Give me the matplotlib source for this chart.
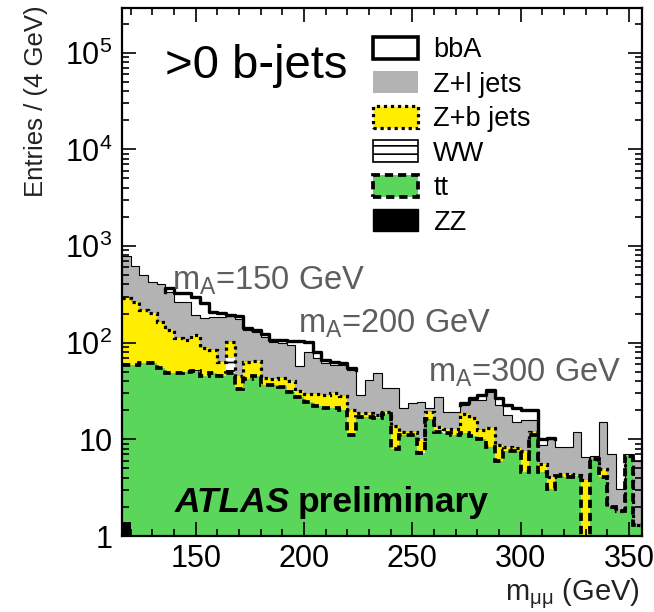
import numpy as np
import matplotlib
matplotlib.use("Agg")
import matplotlib.pyplot as plt
from matplotlib.patches import Patch
from matplotlib.ticker import FixedLocator, MultipleLocator, LogLocator, NullFormatter

plt.rcParams["font.family"] = ["Liberation Sans", "DejaVu Sans"]
plt.rcParams["mathtext.fontset"] = "custom"
plt.rcParams["mathtext.rm"] = "Liberation Sans"
plt.rcParams["mathtext.it"] = "Liberation Sans:italic"
plt.rcParams["hatch.linewidth"] = 1.2

# 4 GeV bins, 116 - 356 GeV
edges = np.arange(116, 360, 4)

zz = [1.4, 0.6, 0.5, 0.4, 0.4] + [0.3] * 6 + [0.2] * 9 + [0.1] * 33 + [0.0] + [0.1] * 6
tt = [57, 58, 61, 61, 54, 48, 48, 49, 51, 45, 48, 45, 48, 33, 42, 45,
      36, 36, 35, 31, 27, 24, 22, 21, 21, 20, 11, 17, 17, 16.5, 18,
      7.8, 11, 11, 7.2, 16, 11.9, 11.6, 11, 11.6, 10.6, 9.9, 8.3, 5.8, 7.4, 7.4,
      4.5, 11, 4.5, 3.0, 4.1, 4.0, 4.1, 0.0, 6.1, 4.0, 1.9, 1.7, 6.6, 1.2]
ww = [0.3] * 12 + [22] + [0.2] * 6 + [0.1] * 20 + [0.0] * 21
zb = [232, 205, 157, 141, 109, 87, 63, 57, 68, 42, 35, 17, 31, 12, 20, 20,
      7, 6, 8, 9, 4.5, 5.6, 7, 7.7, 9, 8, 9, 1.7, 1.7, 1.3, 0.8,
      5.6, 0.6, 0.6, 2.7, 2.8, 1.2, 0.9, 1.5, 6.4, 6.1, 2.6, 4.8, 2.9, 0.9, 0.55,
      2.9, 0.9, 0.9, 1.0, 0.2, 0.3, 0.1, 3.8, 0.0, 0.8, 0.0, 0.0, 0.0, 0.0]
zl = [500, 360, 284, 223, 242, 200, 152, 157, 74, 93, 101, 122, 87, 130, 73, 63,
      71, 59, 55, 54, 25.5, 50, 40, 33, 29, 31, 32, 10, 22, 31, 15,
      20.6, 9.5, 11.7, 14.5, 2.3, 14.4, 6.3, 6.3, 4.7, 8.8, 13, 18, 14, 9.6, 7,
      8.5, 4, 3.3, 5.9, 4, 4, 7.7, 2.8, 0.5, 10.3, 5, 1.3, 0.3, 4.6]
bba = [0, 0, 0, 0, 0, 33, 64, 64, 104, 77, 23, 18, 5, 13, 6, 7,
       8, 5, 8, 9, 46, 22, 10, 4, 4, 3, 3, 0, 0, 0, 0,
       0, 0, 0, 0, 0, 0, 0, 0, 1.1, 1.3, 3.3, 1.4, 4.1, 4.8, 6,
       4.2, 4.2, 1.2, 0.4, 0, 0, 0, 0, 0, 0, 0, 0, 0, 0]

GREEN = "#5ad65a"
YELLOW = "#ffee00"
GREY = "#b3b3b3"
LABEL_GREY = "#5e5e5e"

# stacked levels
c_zz = np.array(zz, dtype=float)
c_tt = c_zz + tt
c_ww = c_tt + ww
c_zb = c_ww + zb
c_zl = c_zb + zl
c_all = c_zl + bba

fig = plt.figure(figsize=(6.54, 6.12), dpi=100)
ax = fig.add_axes([122 / 654, 1 - 536 / 612, 520 / 654, 528 / 612])
ax.set_yscale("log")

floor = 1e-3
ax.stairs(c_all, edges, baseline=floor, fill=True, color="white")
ax.stairs(c_zl, edges, baseline=floor, fill=True, color=GREY)
ax.stairs(c_zb, edges, baseline=floor, fill=True, color=YELLOW)
ax.stairs(c_ww, edges, baseline=floor, fill=True, facecolor="white",
          edgecolor="black", hatch="--", lw=0)
ax.stairs(c_tt, edges, baseline=floor, fill=True, color=GREEN)
ax.stairs(c_zz, edges, baseline=floor, fill=True, color="black")

# outlines
ax.stairs(c_zl, edges, baseline=None, color="black", lw=0.8)
ax.stairs(c_zb, edges, baseline=None, color="black", lw=2.3, ls=(0, (1, 1.2)))
ax.stairs(c_tt, edges, baseline=None, color="black", lw=2.7, ls=(0, (2.2, 1.3)))

# thick signal outline where bbA contributes
has_sig = np.array(bba) > 0
i = 0
while i < len(has_sig):
    if has_sig[i]:
        j = i
        while j < len(has_sig) and has_sig[j]:
            j += 1
        xs = np.repeat(edges[i:j + 1], 2)
        ys = np.concatenate([[c_zl[i]], np.repeat(c_all[i:j], 2), [c_zl[j - 1]]])
        ax.plot(xs, ys, color="black", lw=2.4)
        i = j
    else:
        i += 1

ax.set_xlim(116, 356)
ax.set_ylim(1, 2.9e5)

ax.xaxis.set_major_locator(FixedLocator([150, 200, 250, 300, 350]))
ax.xaxis.set_minor_locator(MultipleLocator(10))
ax.set_yticks([1, 10, 1e2, 1e3, 1e4, 1e5])
ax.set_yticklabels(["1", "10", r"10$^{2}$", r"10$^{3}$", r"10$^{4}$", r"10$^{5}$"])
ax.yaxis.set_minor_locator(LogLocator(base=10, subs=np.arange(2, 10)))
ax.yaxis.set_minor_formatter(NullFormatter())
ax.tick_params(which="both", direction="in", top=True, right=True, width=1.2,
               labelsize=22)
ax.tick_params(which="major", length=10)
ax.tick_params(which="minor", length=5)
ax.tick_params(axis="x", pad=6)
ax.tick_params(axis="y", pad=7)
for s in ax.spines.values():
    s.set_linewidth(1.6)

fig.text(36 / 654, 1 - 5 / 612, "Entries / (4 GeV)", rotation=90, ha="center",
         va="top", fontsize=18.5, color="#222222")
fig.text(640 / 654, 1 / 612, r"m$_{\rm μμ}$ (GeV)", ha="right", va="bottom",
         fontsize=21, color="#222222")

fig.text(165 / 654, 1 - 78 / 612, ">0 b-jets", fontsize=34, ha="left", va="baseline")
fig.text(172 / 654, 1 - 290 / 612, r"m$_{\rm A}$=150 GeV", fontsize=23.5,
         color=LABEL_GREY, ha="left", va="baseline")
fig.text(298 / 654, 1 - 333 / 612, r"m$_{\rm A}$=200 GeV", fontsize=23.5,
         color=LABEL_GREY, ha="left", va="baseline")
fig.text(428 / 654, 1 - 382 / 612, r"m$_{\rm A}$=300 GeV", fontsize=23.5,
         color=LABEL_GREY, ha="left", va="baseline")
fig.text(175 / 654, 1 - 512 / 612, "ATLAS", fontsize=25.5, fontweight="bold",
         fontstyle="italic", ha="left", va="baseline")
fig.text(298 / 654, 1 - 512 / 612, "preliminary", fontsize=25.5, fontweight="bold",
         ha="left", va="baseline")

handles = [
    Patch(facecolor="white", edgecolor="black", lw=2.6),
    Patch(facecolor=GREY, edgecolor="none"),
    Patch(facecolor=YELLOW, edgecolor="black", lw=2.3, ls=(0, (1, 1.2))),
    Patch(facecolor="white", edgecolor="black", lw=1.2, hatch="--"),
    Patch(facecolor=GREEN, edgecolor="black", lw=2.7, ls=(0, (2.2, 1.3))),
    Patch(facecolor="black", edgecolor="black"),
]
labels = ["bbA", "Z+l jets", "Z+b jets", "WW", "tt", "ZZ"]
fig.legend(handles, labels, loc="upper left", bbox_to_anchor=(373 / 654, 1 - 37 / 612),
           frameon=False, fontsize=19.5, handlelength=1.67, handleheight=0.87,
           handletextpad=0.55, labelspacing=0.3, borderpad=0, borderaxespad=0)

fig.savefig("out.png", dpi=100)
